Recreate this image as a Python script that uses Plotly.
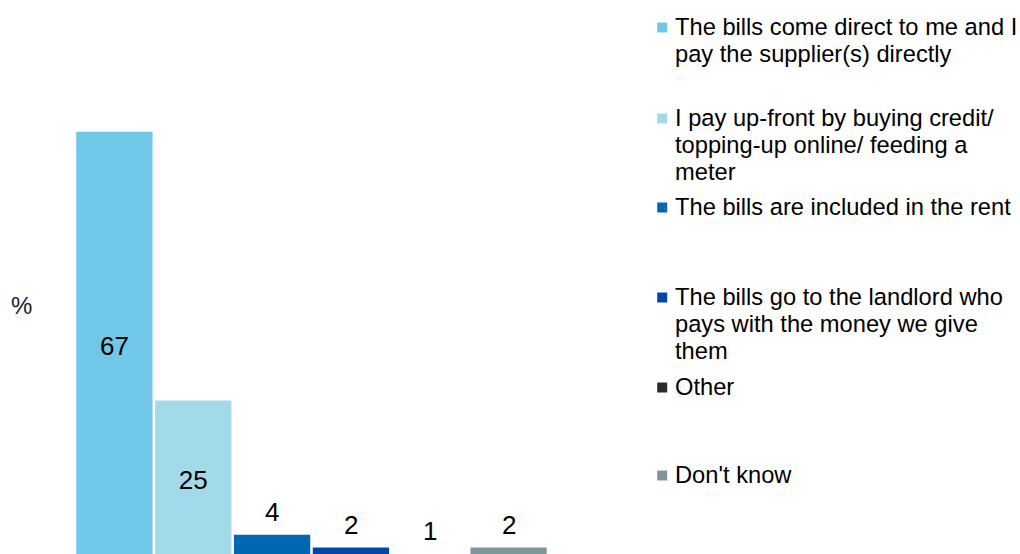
import plotly.graph_objects as go

# Survey answers: how energy bills are paid (%)
categories = [
    "The bills come direct to me and I<br>pay the supplier(s) directly",
    "I pay up-front by buying credit/<br>topping-up online/ feeding a<br>meter",
    "The bills are included in the rent",
    "The bills go to the landlord who<br>pays with the money we give<br>them",
    "Other",
    "Don't know",
]
values = [67, 25, 4, 2, 1, 2]
colors = ["#71C7E8", "#A3DAE9", "#0068B3", "#0445AA", "#2B2B2B", "#7F979C"]

W, H = 1020, 554
plot_left, plot_w = 74.8, 473.0
font = "Liberation Sans, Arial, sans-serif"
label_font = dict(family=font, size=26, color="black")

fig = go.Figure()
annotations = []
for i, (cat, val, col) in enumerate(zip(categories, values, colors)):
    big = val >= 10
    fig.add_trace(go.Bar(
        x=[i], y=[val], name=cat.replace("<br>", " "),
        width=0.968,
        marker=dict(color=col, line=dict(width=0)),
        text=[val] if big else None,
        texttemplate="%{text}" if big else None,
        textposition="inside",
        insidetextanchor="middle",
        textfont=label_font,
        showlegend=False,
        hoverinfo="skip",
    ))
    if not big:
        # small bars carry their value just above the bar top
        annotations.append(dict(
            xref="x", yref="y", x=i, y=val, text=str(val),
            xanchor="center", yanchor="middle", yshift=23,
            showarrow=False, font=label_font,
        ))


def px_to_paper_x(px):
    return (px - plot_left) / plot_w


def px_to_paper_y(py):
    return 1 - py / H


# Legend drawn as square swatches with wrapped labels, one slot per answer
legend_rows = [27, 118, 207, 297, 387, 475]
legend_size = 23.7
line_step = 27
shapes = []
for cat, col, row in zip(categories, colors, legend_rows):
    shapes.append(dict(
        type="rect", xref="paper", yref="paper",
        x0=px_to_paper_x(657), x1=px_to_paper_x(667),
        y0=px_to_paper_y(row + 5.5), y1=px_to_paper_y(row - 4.5),
        fillcolor=col, line=dict(width=0),
    ))
    for k, line in enumerate(cat.split("<br>")):
        annotations.append(dict(
            xref="paper", yref="paper",
            x=px_to_paper_x(674), y=px_to_paper_y(row + k * line_step),
            xanchor="left", yanchor="middle", align="left",
            text=line, showarrow=False, borderpad=0,
            font=dict(family=font, size=legend_size, color="black"),
        ))

annotations.append(dict(
    xref="paper", yref="paper",
    x=px_to_paper_x(21), y=px_to_paper_y(305),
    xanchor="center", yanchor="middle",
    text="%", showarrow=False,
    font=dict(family=font, size=24, color="#1a1a1a"),
))

fig.update_layout(
    width=W, height=H,
    margin=dict(l=plot_left, r=W - plot_left - plot_w, t=0, b=0),
    paper_bgcolor="white", plot_bgcolor="white",
    barmode="overlay",
    shapes=shapes, annotations=annotations,
    xaxis=dict(range=[-0.5, 5.5], showticklabels=False, showgrid=False,
               zeroline=False, showline=False, ticks=""),
    yaxis=dict(range=[0.99, 87.6], showticklabels=False, showgrid=False,
               zeroline=False, showline=False, ticks=""),
)

fig.write_html("out.html")
